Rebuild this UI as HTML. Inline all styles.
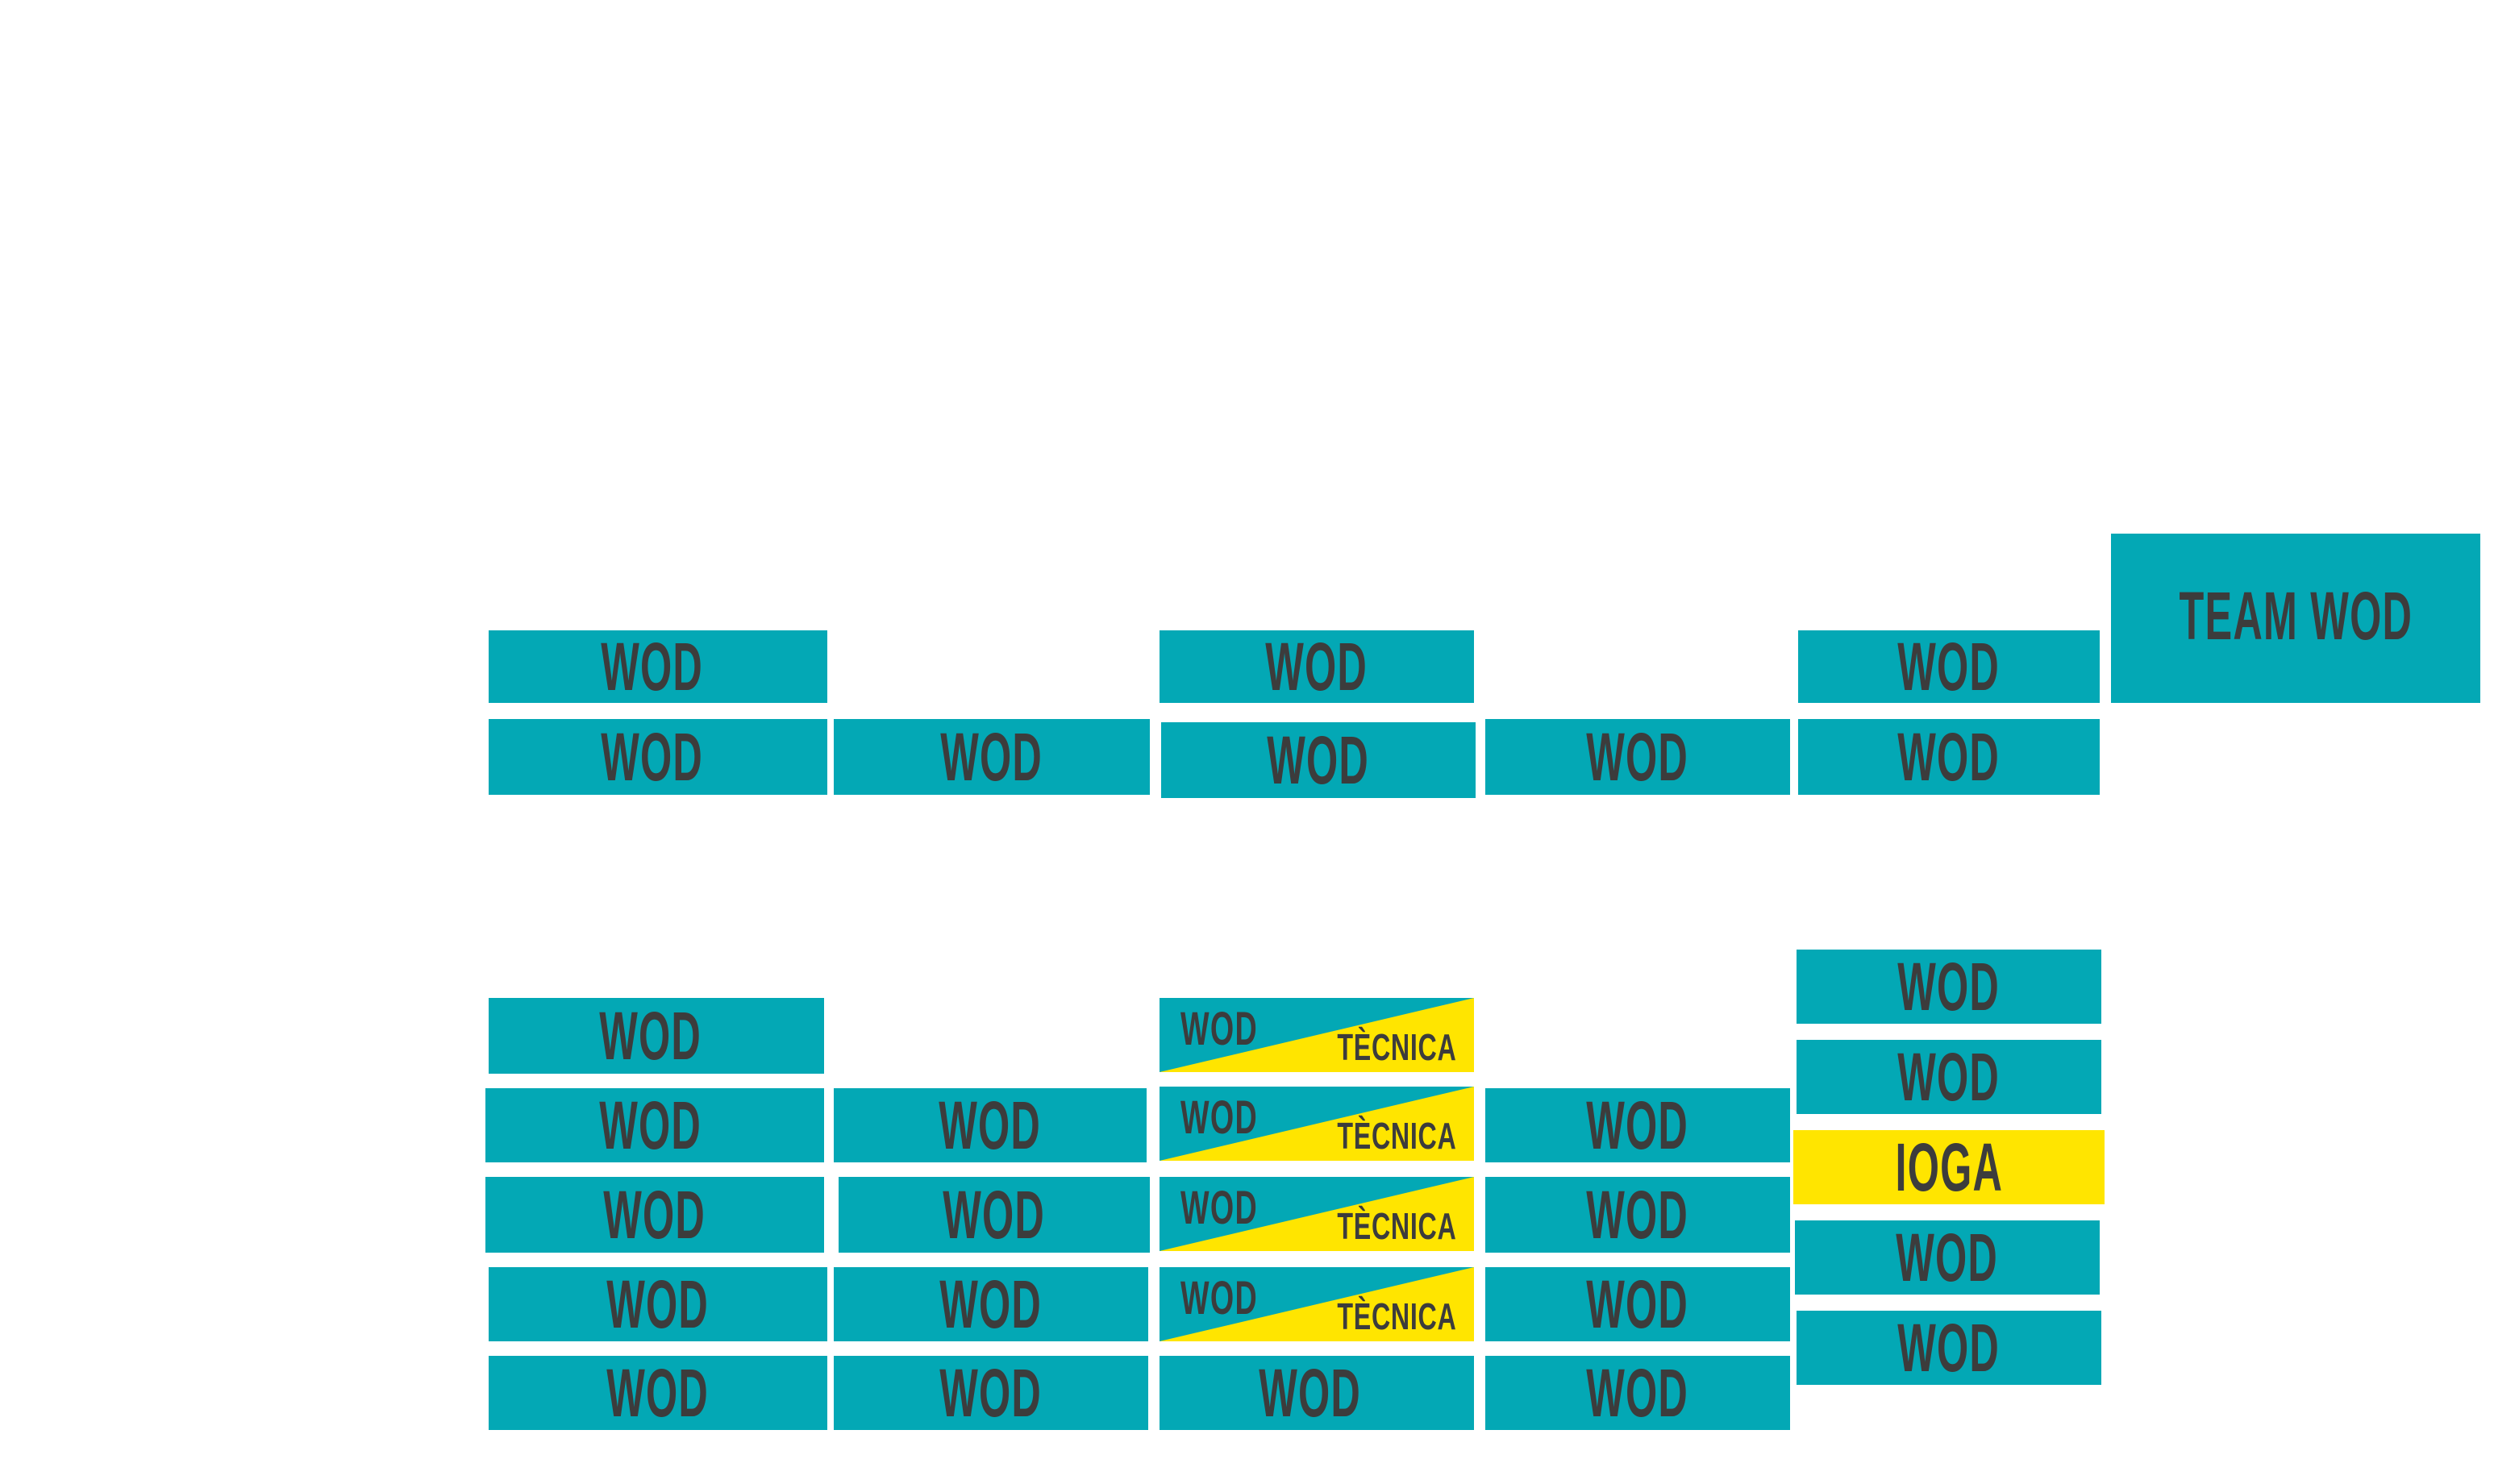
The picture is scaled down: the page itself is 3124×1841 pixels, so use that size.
<!DOCTYPE html>
<html><head><meta charset="utf-8"><style>
html,body{margin:0;padding:0;background:#fff;width:3124px;height:1841px;overflow:hidden;position:relative}
.b{position:absolute;background:#03a8b5;display:flex;align-items:center;justify-content:center;overflow:hidden}
.t{font-family:"Liberation Sans",sans-serif;font-weight:bold;color:#3c3c3c;font-size:84px;line-height:1;transform:scaleX(0.6);white-space:nowrap;letter-spacing:2px}
.y{background:#ffe500}
.tec{position:absolute;overflow:hidden;background:#03a8b5}
.tec svg{position:absolute;left:0;top:0}
.tec .w{position:absolute;left:26px;top:10px;font-family:"Liberation Sans",sans-serif;font-weight:bold;color:#3c3c3c;font-size:58px;line-height:1;transform:scaleX(0.65);transform-origin:left top;letter-spacing:2px}
.tec .k{position:absolute;right:22px;bottom:8px;font-family:"Liberation Sans",sans-serif;font-weight:bold;color:#3c3c3c;font-size:46px;line-height:1;transform:scaleX(0.7);transform-origin:right bottom;letter-spacing:1px}
</style></head><body>
<div class="b" style="left:606px;top:782px;width:420px;height:90px;padding-right:14px;box-sizing:border-box"><span class="t">WOD</span></div>
<div class="b" style="left:606px;top:892px;width:420px;height:94px;padding-right:14px;box-sizing:border-box"><span class="t">WOD</span></div>
<div class="b" style="left:1034px;top:892px;width:392px;height:94px"><span class="t">WOD</span></div>
<div class="b" style="left:1438px;top:782px;width:390px;height:90px"><span class="t">WOD</span></div>
<div class="b" style="left:1440px;top:896px;width:390px;height:94px"><span class="t">WOD</span></div>
<div class="b" style="left:1842px;top:892px;width:378px;height:94px"><span class="t">WOD</span></div>
<div class="b" style="left:2230px;top:782px;width:374px;height:90px"><span class="t">WOD</span></div>
<div class="b" style="left:2230px;top:892px;width:374px;height:94px"><span class="t">WOD</span></div>
<div class="b" style="left:2618px;top:662px;width:458px;height:210px;align-items:flex-start;padding-top:60px;box-sizing:border-box"><span class="t">TEAM WOD</span></div>

<div class="b" style="left:606px;top:1238px;width:416px;height:94px;padding-right:14px;box-sizing:border-box"><span class="t">WOD</span></div>
<div class="b" style="left:602px;top:1350px;width:420px;height:92px;padding-right:10px;box-sizing:border-box"><span class="t">WOD</span></div>
<div class="b" style="left:602px;top:1460px;width:420px;height:94px"><span class="t">WOD</span></div>
<div class="b" style="left:606px;top:1572px;width:420px;height:92px"><span class="t">WOD</span></div>
<div class="b" style="left:606px;top:1682px;width:420px;height:92px"><span class="t">WOD</span></div>
<div class="b" style="left:1034px;top:1350px;width:388px;height:92px"><span class="t">WOD</span></div>
<div class="b" style="left:1040px;top:1460px;width:386px;height:94px"><span class="t">WOD</span></div>
<div class="b" style="left:1034px;top:1572px;width:390px;height:92px"><span class="t">WOD</span></div>
<div class="b" style="left:1034px;top:1682px;width:390px;height:92px"><span class="t">WOD</span></div>
<div class="tec" style="left:1438px;top:1238px;width:390px;height:92px"><svg width="390" height="92"><polygon points="0,92 390,0 390,92" fill="#ffe500"/></svg><span class="w">WOD</span><span class="k">TÈCNICA</span></div>
<div class="tec" style="left:1438px;top:1348px;width:390px;height:92px"><svg width="390" height="92"><polygon points="0,92 390,0 390,92" fill="#ffe500"/></svg><span class="w">WOD</span><span class="k">TÈCNICA</span></div>
<div class="tec" style="left:1438px;top:1460px;width:390px;height:92px"><svg width="390" height="92"><polygon points="0,92 390,0 390,92" fill="#ffe500"/></svg><span class="w">WOD</span><span class="k">TÈCNICA</span></div>
<div class="tec" style="left:1438px;top:1572px;width:390px;height:92px"><svg width="390" height="92"><polygon points="0,92 390,0 390,92" fill="#ffe500"/></svg><span class="w">WOD</span><span class="k">TÈCNICA</span></div>
<div class="b" style="left:1438px;top:1682px;width:390px;height:92px;padding-right:16px;box-sizing:border-box"><span class="t">WOD</span></div>
<div class="b" style="left:1842px;top:1350px;width:378px;height:92px"><span class="t">WOD</span></div>
<div class="b" style="left:1842px;top:1460px;width:378px;height:94px"><span class="t">WOD</span></div>
<div class="b" style="left:1842px;top:1572px;width:378px;height:92px"><span class="t">WOD</span></div>
<div class="b" style="left:1842px;top:1682px;width:378px;height:92px"><span class="t">WOD</span></div>
<div class="b" style="left:2228px;top:1178px;width:378px;height:92px"><span class="t">WOD</span></div>
<div class="b" style="left:2228px;top:1290px;width:378px;height:92px"><span class="t">WOD</span></div>
<div class="b y" style="left:2224px;top:1402px;width:386px;height:92px"><span class="t">IOGA</span></div>
<div class="b" style="left:2226px;top:1514px;width:378px;height:92px"><span class="t">WOD</span></div>
<div class="b" style="left:2228px;top:1626px;width:378px;height:92px"><span class="t">WOD</span></div>
</body></html>
